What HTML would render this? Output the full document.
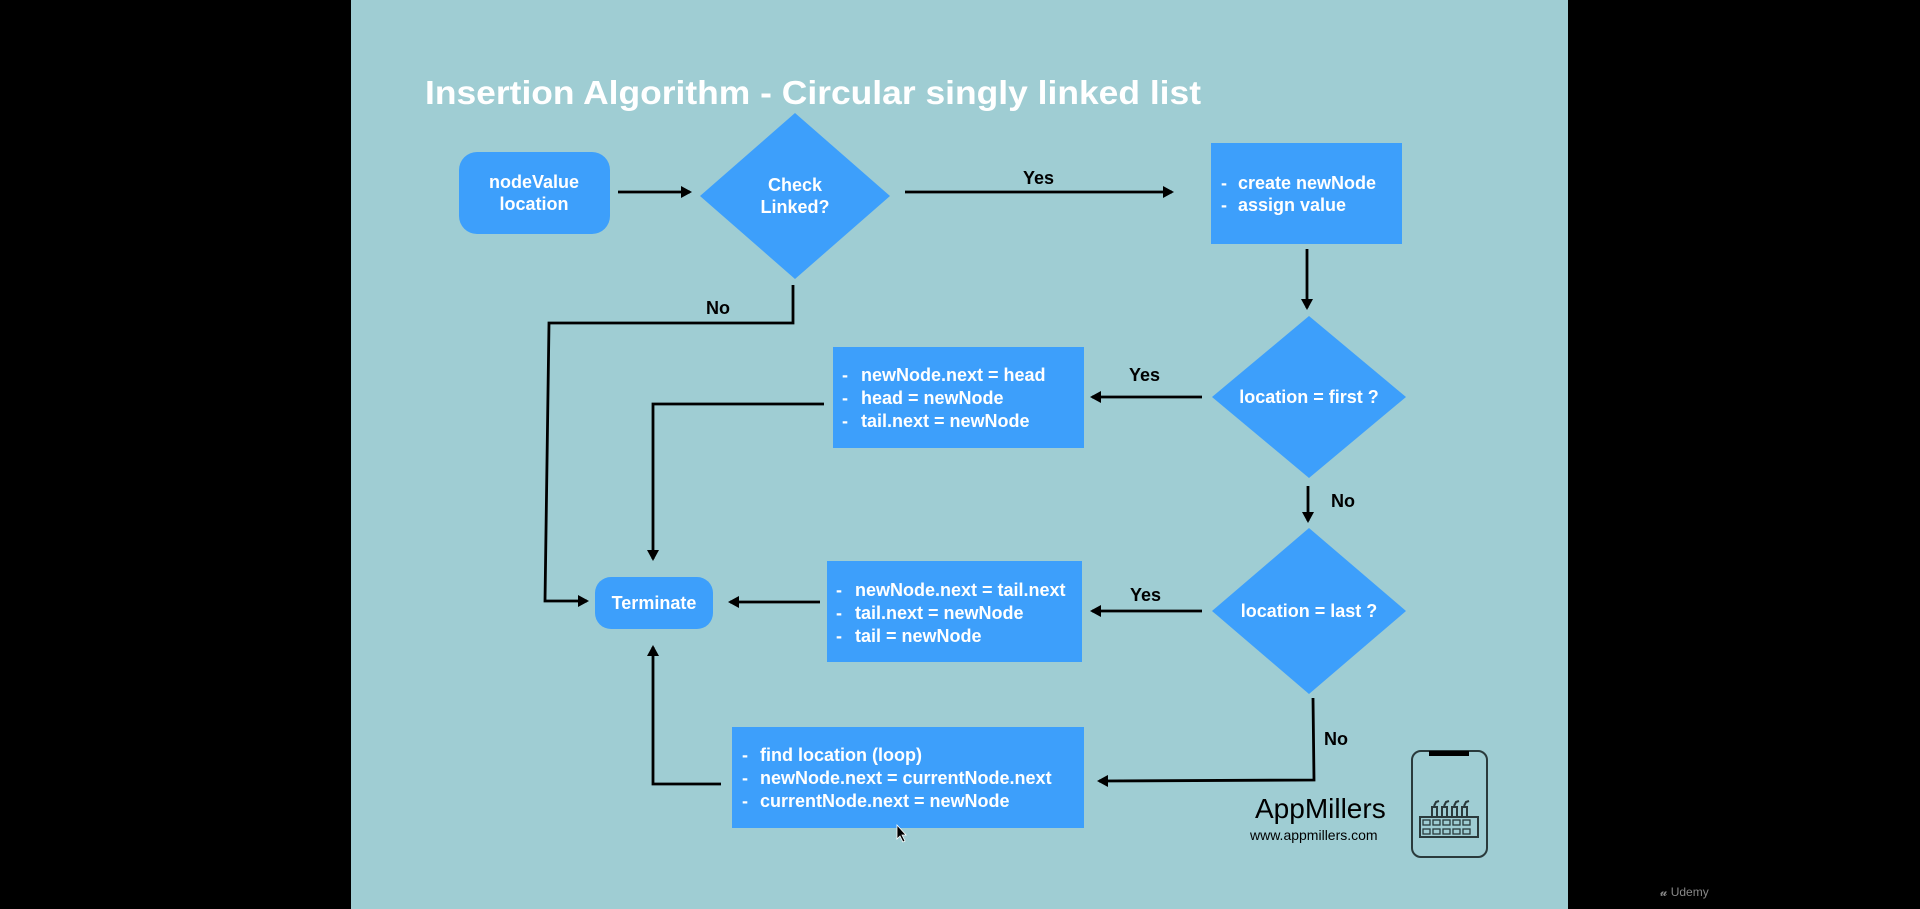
<!DOCTYPE html>
<html><head><meta charset="utf-8"><style>
html,body{margin:0;padding:0;background:#000;width:1920px;height:909px;overflow:hidden}
svg{display:block}
text{font-family:"Liberation Sans",sans-serif}
</style></head><body>
<svg width="1920" height="909" viewBox="0 0 1920 909" xmlns="http://www.w3.org/2000/svg">
<defs>
<marker id="a" markerWidth="12" markerHeight="12" refX="9" refY="6" orient="auto" markerUnits="userSpaceOnUse">
<path d="M0,0 L11,6 L0,12 Z" fill="#000"/></marker>
</defs>
<rect x="0" y="0" width="1920" height="909" fill="#000"/>
<rect x="351" y="0" width="1217" height="909" fill="#9fcdd3"/>
<text x="425" y="104" font-size="33" font-weight="bold" fill="#fff" textLength="776" lengthAdjust="spacingAndGlyphs">Insertion Algorithm - Circular singly linked list</text>

<g fill="#3d9ffb">
<rect x="459" y="152" width="151" height="82" rx="18"/>
<polygon points="795,113 890,196 795,279 700,196"/>
<rect x="1211" y="143" width="191" height="101"/>
<polygon points="1309,316 1406,397 1309,478 1212,397"/>
<rect x="833" y="347" width="251" height="101"/>
<polygon points="1309,528 1406,611 1309,694 1212,611"/>
<rect x="827" y="561" width="255" height="101"/>
<rect x="595" y="577" width="118" height="52" rx="16"/>
<rect x="732" y="727" width="352" height="101"/>
</g>

<g stroke="#000" stroke-width="2.8" fill="none">
<line x1="618" y1="192" x2="690" y2="192" marker-end="url(#a)"/>
<line x1="905" y1="192" x2="1172" y2="192" marker-end="url(#a)"/>
<line x1="1307" y1="249" x2="1307" y2="308" marker-end="url(#a)"/>
<line x1="1202" y1="397" x2="1092" y2="397" marker-end="url(#a)"/>
<polyline points="824,404 653,404 653,559" marker-end="url(#a)"/>
<polyline points="793,285 793,323 549,323 545,601 587,601" marker-end="url(#a)"/>
<line x1="1308" y1="486" x2="1308" y2="521" marker-end="url(#a)"/>
<line x1="1202" y1="611" x2="1092" y2="611" marker-end="url(#a)"/>
<line x1="820" y1="602" x2="730" y2="602" marker-end="url(#a)"/>
<polyline points="1313,698 1314,780 1099,781" marker-end="url(#a)"/>
<polyline points="721,784 653,784 653,647" marker-end="url(#a)"/>
</g>

<g font-size="18" font-weight="bold" fill="#000">
<text x="1023" y="184">Yes</text>
<text x="706" y="314">No</text>
<text x="1129" y="381">Yes</text>
<text x="1331" y="507">No</text>
<text x="1130" y="601">Yes</text>
<text x="1324" y="745">No</text>
</g>

<g font-size="18" font-weight="bold" fill="#fff">
<text x="534" y="188" text-anchor="middle">nodeValue</text>
<text x="534" y="210" text-anchor="middle">location</text>
<text x="795" y="191" text-anchor="middle">Check</text>
<text x="795" y="213" text-anchor="middle">Linked?</text>
<text x="1221" y="189">-</text><text x="1238" y="189">create newNode</text>
<text x="1221" y="211">-</text><text x="1238" y="211">assign value</text>
<text x="1309" y="403" text-anchor="middle">location = first ?</text>
<text x="1309" y="617" text-anchor="middle">location = last ?</text>
<text x="842" y="381">-</text><text x="861" y="381">newNode.next = head</text>
<text x="842" y="404">-</text><text x="861" y="404">head = newNode</text>
<text x="842" y="427">-</text><text x="861" y="427">tail.next = newNode</text>
<text x="836" y="596">-</text><text x="855" y="596">newNode.next = tail.next</text>
<text x="836" y="619">-</text><text x="855" y="619">tail.next = newNode</text>
<text x="836" y="642">-</text><text x="855" y="642">tail = newNode</text>
<text x="654" y="609" text-anchor="middle">Terminate</text>
<text x="742" y="761">-</text><text x="760" y="761">find location (loop)</text>
<text x="742" y="784">-</text><text x="760" y="784">newNode.next = currentNode.next</text>
<text x="742" y="807">-</text><text x="760" y="807">currentNode.next = newNode</text>
</g>

<text x="1255" y="818" font-size="28" fill="#000">AppMillers</text>
<text x="1250" y="840" font-size="14" fill="#000">www.appmillers.com</text>

<g stroke="#2a3a3c" stroke-width="2" fill="none">
<rect x="1412" y="751" width="75" height="106" rx="9"/>
<rect x="1420" y="817" width="58" height="20"/>
<path d="M1432,817 v-10 h5 v10 M1442,817 v-10 h5 v10 M1452,817 v-10 h5 v10 M1462,817 v-10 h5 v10"/>
<path d="M1434,806 l2,-4 l3,-1 M1444,806 l2,-4 l3,-1 M1454,806 l2,-4 l3,-1 M1464,806 l2,-4 l3,-1"/>
</g>
<rect x="1429" y="751" width="40" height="5" fill="#000"/>
<g fill="none" stroke="#2a3a3c" stroke-width="1.3">
<rect x="1423" y="820" width="7" height="5"/><rect x="1433" y="820" width="7" height="5"/><rect x="1443" y="820" width="7" height="5"/><rect x="1453" y="820" width="7" height="5"/><rect x="1463" y="820" width="7" height="5"/>
<rect x="1423" y="829" width="7" height="5"/><rect x="1433" y="829" width="7" height="5"/><rect x="1443" y="829" width="7" height="5"/><rect x="1453" y="829" width="7" height="5"/><rect x="1463" y="829" width="7" height="5"/>
</g>

<path d="M897,825 l0,14 l3,-3 l3,6 l2,-1 l-3,-6 l4,0 Z" fill="#000" stroke="#fff" stroke-width="0.8"/>
<text x="1660" y="896" font-size="12" fill="#888">𝓾 Udemy</text>
</svg>
</body></html>
